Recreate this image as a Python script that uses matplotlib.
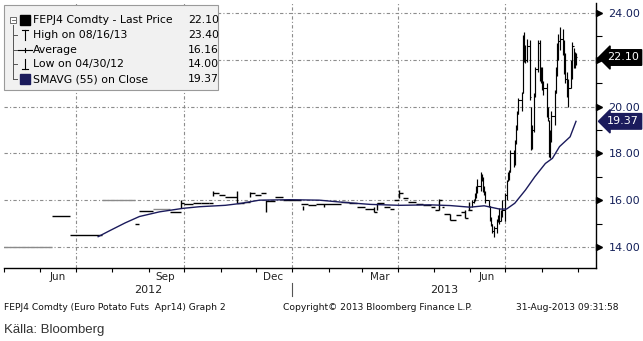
import matplotlib
matplotlib.use("Agg")
import matplotlib.pyplot as plt
import matplotlib.dates as mdates
import matplotlib.transforms as mtransforms
from matplotlib.patches import Rectangle
from matplotlib.lines import Line2D
import pandas as pd

# ---- price data (FEPJ4 Comdty) ----
# quiet period: close price change points (held until the next change)
quiet_dates = ["2012-04-30", "2012-06-11", "2012-06-26", "2012-07-23", "2012-08-20",
               "2012-08-24", "2012-09-05", "2012-09-19", "2012-09-28", "2012-10-01",
               "2012-10-09", "2012-10-15", "2012-10-22", "2012-10-26", "2012-10-31",
               "2012-11-05", "2012-11-15", "2012-11-21", "2012-11-26", "2012-11-30",
               "2012-12-05", "2012-12-10", "2012-12-17", "2012-12-24", "2013-01-08",
               "2013-01-14", "2013-01-21", "2013-02-11", "2013-02-18", "2013-02-25",
               "2013-03-04", "2013-03-11", "2013-03-14", "2013-03-20", "2013-03-25",
               "2013-03-28", "2013-04-02", "2013-04-05", "2013-04-09", "2013-04-16",
               "2013-04-22", "2013-04-29", "2013-05-02", "2013-05-06", "2013-05-08",
               "2013-05-10", "2013-05-15", "2013-05-20", "2013-05-24", "2013-05-28",
               "2013-05-30"]
quiet_close = [14.00, 15.31, 14.50, 16.00, 15.00,
               15.54, 15.62, 15.50, 15.90, 15.82,
               15.89, 15.86, 15.90, 16.30, 16.20,
               16.15, 15.88, 15.92, 16.30, 16.20,
               16.30, 15.95, 16.15, 16.00, 15.84,
               15.80, 15.84, 15.94, 15.86, 15.72,
               15.62, 15.50, 15.86, 15.70, 15.62,
               16.00, 16.30, 16.10, 15.94, 15.84,
               15.80, 15.70, 15.58, 16.00, 15.70,
               15.40, 15.15, 15.37, 15.50, 15.23,
               15.60]
# settlement-only stretches (drawn grey)
settle_only = ["2012-04-30", "2012-07-23", "2012-09-05"]

# quiet period: days with a visible high-low range
quiet_bar_dates = ["2012-09-28", "2012-10-26", "2012-11-15", "2012-11-26", "2012-12-10",
                   "2013-01-10", "2013-01-28", "2013-03-11", "2013-03-14", "2013-04-02",
                   "2013-05-06", "2013-05-15", "2013-05-28", "2013-05-31"]
quiet_bar_low = [15.66, 16.18, 15.88, 16.15, 15.50,
                 15.58, 15.72, 15.50, 15.58, 16.10,
                 15.58, 15.15, 15.23, 15.60]
quiet_bar_high = [16.00, 16.40, 16.40, 16.36, 16.00,
                  15.75, 15.84, 15.72, 15.86, 16.43,
                  16.05, 15.40, 15.60, 15.94]

# summer 2013 rally: daily low / high / close
rally_dates = ["2013-06-03", "2013-06-04", "2013-06-05", "2013-06-06", "2013-06-07",
               "2013-06-10", "2013-06-11", "2013-06-12", "2013-06-13", "2013-06-14",
               "2013-06-17", "2013-06-18", "2013-06-19", "2013-06-20", "2013-06-21",
               "2013-06-24", "2013-06-25", "2013-06-26", "2013-06-27", "2013-06-28",
               "2013-07-01", "2013-07-02", "2013-07-03", "2013-07-04", "2013-07-05",
               "2013-07-08", "2013-07-09", "2013-07-10", "2013-07-11", "2013-07-12",
               "2013-07-15", "2013-07-16", "2013-07-17", "2013-07-18", "2013-07-19",
               "2013-07-22", "2013-07-23", "2013-07-24", "2013-07-25", "2013-07-26",
               "2013-07-29", "2013-07-30", "2013-07-31", "2013-08-01", "2013-08-02",
               "2013-08-05", "2013-08-06", "2013-08-07", "2013-08-08", "2013-08-09",
               "2013-08-12", "2013-08-13", "2013-08-14", "2013-08-15", "2013-08-16",
               "2013-08-19", "2013-08-20", "2013-08-21", "2013-08-22", "2013-08-23",
               "2013-08-26", "2013-08-27", "2013-08-28", "2013-08-29", "2013-08-30"]
rally_low = [15.70, 15.90, 15.95, 16.10, 16.30,
             16.40, 16.80, 16.36, 16.20, 15.90,
             15.70, 15.10, 14.90, 14.60, 14.44,
             14.60, 15.08, 15.00, 15.10, 15.30,
             15.10, 16.00, 16.80, 16.86, 17.20,
             17.43, 17.50, 18.40, 19.00, 19.70,
             19.80, 20.60, 21.90, 21.86, 21.90,
             20.30, 18.15, 18.20, 18.90, 20.40,
             21.50, 21.10, 21.00, 20.70, 20.50,
             19.57, 19.40, 17.86, 17.80, 18.50,
             19.20, 20.60, 21.30, 22.00, 22.40,
             22.20, 21.40, 21.00, 20.40, 20.00,
             20.80, 21.20, 21.65, 21.65, 21.80]
rally_high = [16.00, 16.05, 16.30, 16.60, 16.90,
              17.22, 17.10, 17.00, 16.60, 16.40,
              16.00, 15.75, 15.30, 15.00, 14.90,
              15.20, 15.37, 15.66, 15.60, 16.00,
              16.30, 16.86, 17.20, 17.30, 18.15,
              18.15, 18.57, 19.20, 19.80, 20.35,
              20.64, 23.06, 23.20, 22.63, 22.90,
              22.85, 20.00, 19.20, 20.60, 21.70,
              22.85, 22.85, 21.70, 21.70, 21.10,
              21.00, 20.00, 19.43, 19.00, 19.80,
              20.70, 21.70, 22.70, 23.10, 23.40,
              23.30, 22.85, 22.30, 21.50, 21.20,
              22.00, 22.77, 22.50, 22.35, 22.30]
rally_close = [15.94, 16.00, 16.20, 16.50, 16.60,
               17.00, 16.90, 16.50, 16.30, 16.00,
               15.75, 15.20, 15.00, 14.70, 14.80,
               15.10, 15.30, 15.10, 15.50, 15.60,
               16.20, 16.80, 17.00, 17.20, 18.00,
               17.60, 18.50, 19.10, 19.70, 20.30,
               20.60, 22.90, 22.50, 22.00, 22.60,
               20.40, 18.40, 19.00, 20.50, 21.60,
               22.70, 21.40, 21.50, 21.00, 20.80,
               19.80, 19.50, 18.00, 18.80, 19.60,
               20.60, 21.50, 22.60, 22.80, 22.90,
               22.60, 21.60, 21.20, 20.60, 20.80,
               21.80, 22.60, 22.20, 21.90, 22.10]

# 55-day simple moving average of the close
sma_dates = ["2012-07-20", "2012-07-30", "2012-08-12", "2012-08-24", "2012-09-10",
             "2012-09-30", "2012-10-14", "2012-11-05", "2012-11-18", "2012-12-04",
             "2012-12-30", "2013-01-24", "2013-02-15", "2013-03-08", "2013-04-02",
             "2013-04-28", "2013-05-15", "2013-06-01", "2013-06-13", "2013-06-26",
             "2013-07-02", "2013-07-09", "2013-07-18", "2013-07-26", "2013-08-04",
             "2013-08-10", "2013-08-16", "2013-08-25", "2013-08-30"]
sma_values = [14.44, 14.70, 15.03, 15.30, 15.50,
              15.65, 15.72, 15.78, 15.86, 16.00,
              16.02, 16.00, 15.90, 15.82, 15.78,
              15.80, 15.77, 15.70, 15.76, 15.62,
              15.62, 15.87, 16.43, 17.00, 17.57,
              17.79, 18.29, 18.71, 19.37]

legend_labels = ["FEPJ4 Comdty - Last Price", "High on 08/16/13", "Average",
                 "Low on 04/30/12", "SMAVG (55) on Close"]
legend_values = ["22.10", "23.40", "16.16", "14.00", "19.37"]

month_label_dates = ["2012-06-16", "2012-09-15", "2012-12-16", "2013-03-16", "2013-06-15"]
month_labels = ["Jun", "Sep", "Dec", "Mar", "Jun"]
quarter_lines = ["2012-07-01", "2012-10-01", "2013-01-01", "2013-04-01", "2013-07-01"]
y_ticks = [14, 16, 18, 20, 22, 24]

navy = "#1b1b5c"
grid_col = "#8c8c8c"
grid_ls = (0, (3, 2, 1, 2))

W, H = 643, 341
fig = plt.figure(figsize=(W / 100, H / 100), dpi=100)
ax = fig.add_axes([4 / W, 1 - 268 / H, 592 / W, 265 / H])

d = lambda s: mdates.date2num(pd.Timestamp(s))

ax.set_xlim(d("2012-05-01"), d("2013-09-16"))
ax.set_ylim(13.10, 24.43)

# grid
for v in y_ticks:
    ax.axhline(v, color=grid_col, lw=0.8, ls=grid_ls, zorder=0)
for q in quarter_lines:
    ax.axvline(d(q), color=grid_col, lw=0.8, ls=grid_ls, zorder=0)

# quiet period: held closes
qd = [d(s) for s in quiet_dates] + [d(rally_dates[0])]
for i, c in enumerate(quiet_close):
    col = "#8a8a8a" if quiet_dates[i] in settle_only else "black"
    ax.hlines(c, qd[i], qd[i + 1], colors=col, lw=1.0, zorder=2)
ax.vlines([d(s) for s in quiet_bar_dates], quiet_bar_low, quiet_bar_high,
          colors="black", lw=1.0, zorder=2)

# rally: daily high-low bars with close carried to next bar
rd = [d(s) for s in rally_dates]
rd_next = rd[1:] + [rd[-1] + 1]
ax.vlines(rd, rally_low, rally_high, colors="black", lw=0.85, zorder=2)
ax.hlines(rally_close, rd, rd_next, colors="black", lw=0.8, zorder=2)

# moving average
ax.plot([d(s) for s in sma_dates], sma_values, color=navy, lw=1.0, zorder=3)

# spines
for s in ["top", "left"]:
    ax.spines[s].set_visible(False)
ax.spines["bottom"].set_linewidth(1.0)
ax.spines["right"].set_linewidth(1.0)

# x axis
ax.xaxis.set_minor_locator(mdates.MonthLocator())
ax.set_xticks([d(s) for s in month_label_dates])
ax.set_xticklabels(month_labels, fontsize=7.5, color="#222222")
ax.tick_params(axis="x", which="major", length=0, pad=3)
ax.tick_params(axis="x", which="minor", length=3, direction="out", width=0.8)

xt = ax.get_xaxis_transform()
x0, x1 = ax.get_xlim()
yb = d("2013-01-01")
ax.text((x0 + yb) / 2, -0.083, "2012", transform=xt, ha="center", va="center",
        fontsize=8, color="#222222")
ax.text((yb + x1) / 2, -0.083, "2013", transform=xt, ha="center", va="center",
        fontsize=8, color="#222222")
ax.add_line(Line2D([yb, yb], [-0.057, -0.105], transform=xt, color="#555555",
                   lw=0.8, clip_on=False))

# y axis on the right (22.00 sits under the last-price tag)
ax.yaxis.tick_right()
ax.set_yticks(y_ticks)
ax.set_yticklabels(["" if v == 22 else "%.2f" % v for v in y_ticks], fontsize=8,
                   color="#14205a")
ax.set_yticks([15, 17, 19, 21, 23], minor=True)
ax.tick_params(axis="y", which="major", length=0, pad=9)
ax.tick_params(axis="y", which="minor", length=4, direction="out", width=0.8)
yt = ax.get_yaxis_transform()
ax.plot([1.0] * len(y_ticks), y_ticks, ls="none", marker=">", ms=4.5, color="black",
        transform=mtransforms.offset_copy(yt, fig=fig, x=3, units="dots"),
        clip_on=False)

# last-value tags
tag_tr = mtransforms.offset_copy(yt, fig=fig, x=11, units="dots")
ax.text(1.0, rally_close[-1], "%.2f" % rally_close[-1], transform=tag_tr,
        ha="left", va="center", fontsize=8, color="white", zorder=10,
        bbox=dict(boxstyle="larrow,pad=0.25", fc="black", ec="black"))
ax.text(1.0, sma_values[-1], "%.2f" % sma_values[-1], transform=tag_tr,
        ha="left", va="center", fontsize=8, color="white", zorder=10,
        bbox=dict(boxstyle="larrow,pad=0.25", fc=navy, ec=navy))

# legend box (Bloomberg style)
def fx(x):
    return x / W


def fy(y):
    return 1 - y / H


fig.add_artist(Rectangle((fx(4), fy(90)), fx(214), 85 / H, transform=fig.transFigure,
                         fc="#f1f1f1", ec="#9a9a9a", lw=0.8, zorder=5))
row_y = [20, 35, 50, 64, 79]
tree = "#555555"
fig.add_artist(Line2D([fx(13), fx(13)], [fy(25), fy(79)], transform=fig.transFigure,
                      color=tree, lw=0.7, zorder=6))
for ry in row_y[1:]:
    fig.add_artist(Line2D([fx(13), fx(17)], [fy(ry), fy(ry)], transform=fig.transFigure,
                          color=tree, lw=0.7, zorder=6))
# collapse box
fig.add_artist(Rectangle((fx(10), fy(23)), fx(6), 6 / H, transform=fig.transFigure,
                         fc="white", ec=tree, lw=0.6, zorder=6))
fig.add_artist(Line2D([fx(11.5), fx(14.5)], [fy(20), fy(20)], transform=fig.transFigure,
                      color=tree, lw=0.6, zorder=7))
# series squares
fig.add_artist(Rectangle((fx(20), fy(25)), fx(10), 10 / H, transform=fig.transFigure,
                         fc="black", ec="black", zorder=6))
fig.add_artist(Rectangle((fx(20), fy(84)), fx(10), 10 / H, transform=fig.transFigure,
                         fc=navy, ec=navy, zorder=6))
# high / average / low glyphs
fig.add_artist(Line2D([fx(25), fx(25)], [fy(30), fy(40)], transform=fig.transFigure,
                      color="black", lw=0.8, zorder=6))
fig.add_artist(Line2D([fx(22), fx(28)], [fy(30), fy(30)], transform=fig.transFigure,
                      color="black", lw=0.8, zorder=6))
fig.add_artist(Line2D([fx(18), fx(32)], [fy(50), fy(50)], transform=fig.transFigure,
                      color="black", lw=0.8, zorder=6))
fig.add_artist(Line2D([fx(25), fx(25)], [fy(48), fy(52)], transform=fig.transFigure,
                      color="black", lw=0.8, zorder=6))
fig.add_artist(Line2D([fx(25), fx(25)], [fy(59), fy(69)], transform=fig.transFigure,
                      color="black", lw=0.8, zorder=6))
fig.add_artist(Line2D([fx(22), fx(28)], [fy(69), fy(69)], transform=fig.transFigure,
                      color="black", lw=0.8, zorder=6))
for ry, lab, val in zip(row_y, legend_labels, legend_values):
    fig.text(fx(33), fy(ry), lab, ha="left", va="center", fontsize=7.8, color="black",
             zorder=7)
    fig.text(fx(188), fy(ry), val, ha="left", va="center", fontsize=7.8, color="black",
             zorder=7)

# footer
foot = dict(ha="left", va="center", fontsize=6.6, color="#111111")
fig.text(fx(4), fy(308), "FEPJ4 Comdty (Euro Potato Futs  Apr14) Graph 2", **foot)
fig.text(fx(283), fy(308), "Copyright\u00a9 2013 Bloomberg Finance L.P.", **foot)
fig.text(fx(516), fy(308), "31-Aug-2013 09:31:58", **foot)
fig.text(fx(4), fy(330), "K\u00e4lla: Bloomberg", ha="left", va="center",
         fontsize=9.5, family="Liberation Sans", color="#333333")

fig.savefig("out.png", dpi=100)
